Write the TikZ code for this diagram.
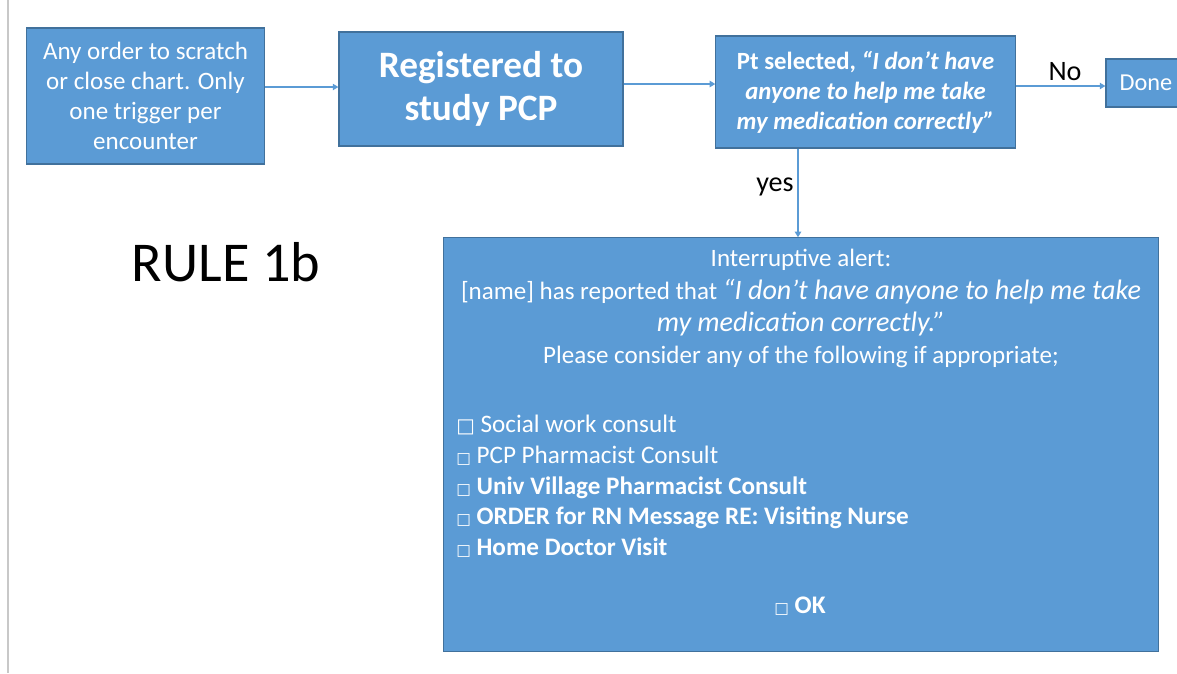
\documentclass[tikz,border=0pt]{standalone}
\usepackage{fontspec}
\setmainfont{Carlito}
\newfontfamily\symbolfont{DejaVu Sans}
\usetikzlibrary{arrows.meta}
\definecolor{boxblue}{HTML}{5B9BD5}
\definecolor{boxedge}{HTML}{41719C}
\definecolor{edgegray}{HTML}{C8C8C8}
\tikzset{
  flowbox/.style={draw=boxedge, line width=0.8pt, fill=boxblue, text=white, align=center, inner sep=2pt},
  flowarrow/.style={draw=boxblue, line width=1pt, -{Triangle[length=4pt,width=4.5pt]}},
  alerttext/.style={text=white, inner sep=0pt},
  branchlabel/.style={text=black, font=\fontsize{20}{22}\selectfont},
}
\newcommand{\chkbox}{{\symbolfont\fontsize{11}{11}\selectfont □}}
\newcommand{\bigchkbox}{{\symbolfont\fontsize{14}{12}\selectfont □}}

\begin{document}
\begin{tikzpicture}[x=0.025cm,y=-0.025cm]
  \useasboundingbox (0,0) rectangle (1177,673);
  \clip (0,0) rectangle (1177,673);
  \draw [edgegray, line width=1.4pt] (8,0) -- (8,673);
  % boxes of the flow
  \node [flowbox, minimum width=5.93cm, minimum height=3.4cm, font=\fontsize{17.8}{21.3}\selectfont] (trigger) at (145.5,96) {Any order to scratch\\or close chart. Only\\one trigger per\\encounter};
  \node [flowbox, minimum width=7.1cm, minimum height=2.85cm, font=\fontsize{26.5}{31}\selectfont\bfseries] (registered) at (481,89) {Registered to\\study PCP};
  \node [flowbox, minimum width=7.48cm, minimum height=2.8cm, font=\fontsize{17.6}{21.3}\selectfont\bfseries] (selected) at (865.5,92) {Pt selected, \textit{“I don’t have}\\\textit{anyone to help me take}\\\textit{my medication correctly”}};
  \node [flowbox, minimum width=2cm, minimum height=1.2cm, font=\fontsize{17.3}{18}\selectfont] (done) at (1146,83) {Done};
  \node [flowbox, minimum width=17.85cm, minimum height=10.33cm] (alert) at (801,444.5) {};
  \node [font=\fontsize{40}{44}\selectfont] (rule) at (226,262) {RULE 1b};
  % alert contents
  \node [alerttext, anchor=north, align=center, font=\fontsize{17.8}{23}\selectfont] (alerthead) at (801,249) {Interruptive alert:\\{}[name] has reported that {\fontsize{20}{23}\selectfont\itshape “I don’t have anyone to help me take}\\{\fontsize{20}{23}\selectfont\itshape my medication correctly.”}\\Please consider any of the following if appropriate;};
  \node [alerttext, anchor=north west, align=left, font=\fontsize{17.9}{21.8}\selectfont] (choices) at (456,415) {\bigchkbox\ Social work consult\\\chkbox\ PCP Pharmacist Consult\\\chkbox\ \textbf{Univ Village Pharmacist Consult}\\\chkbox\ \textbf{ORDER for RN Message RE: Visiting Nurse}\\\chkbox\ \textbf{Home Doctor Visit}};
  \node [alerttext, font=\fontsize{18}{18}\selectfont] (ok) at (800,606) {\chkbox\ \textbf{OK}};
  % connectors
  \draw [flowarrow] (trigger.east |- 0,87) -- (registered.west |- 0,87);
  \draw [flowarrow] (registered.east |- 0,84) -- (selected.west |- 0,84);
  \draw [flowarrow] (selected.east |- 0,86) -- (done.west |- 0,86);
  \draw [flowarrow] (selected.south -| 798,0) -- (alert.north -| 798,0);
  \node [branchlabel] (no) at (1065,72) {No};
  \node [branchlabel] (yes) at (775,187) {yes};
\end{tikzpicture}
\end{document}
